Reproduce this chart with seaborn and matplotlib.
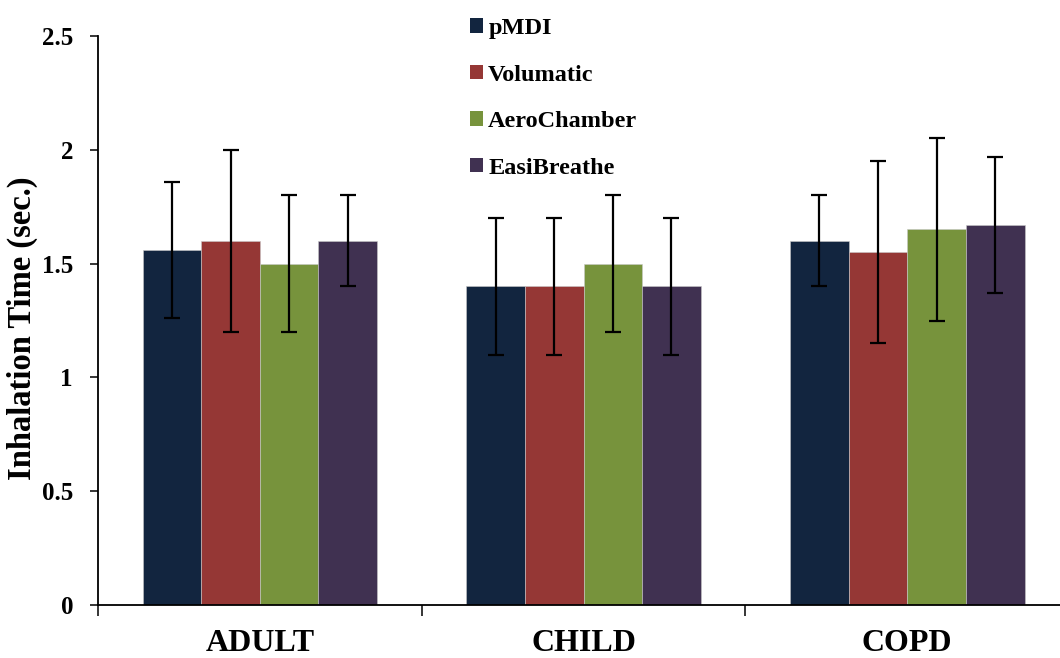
import matplotlib
matplotlib.use("Agg")
import matplotlib.pyplot as plt
from matplotlib.patches import Patch
import seaborn as sns
import pandas as pd

# Mean inhalation time (sec.) per patient group and device, with error ranges
groups = ["ADULT", "CHILD", "COPD"]
devices = ["pMDI", "Volumatic", "AeroChamber", "EasiBreathe"]
means = {
    "pMDI":        [1.56, 1.40, 1.60],
    "Volumatic":   [1.60, 1.40, 1.55],
    "AeroChamber": [1.50, 1.50, 1.65],
    "EasiBreathe": [1.60, 1.40, 1.67],
}
errors = {
    "pMDI":        [0.30, 0.30, 0.20],
    "Volumatic":   [0.40, 0.30, 0.40],
    "AeroChamber": [0.30, 0.30, 0.40],
    "EasiBreathe": [0.20, 0.30, 0.30],
}
colors = ["#12253F", "#953735", "#77933C", "#403151"]
yticks = [0, 0.5, 1, 1.5, 2, 2.5]
ytick_labels = ["0", "0.5", "1", "1.5", "2", "2.5"]

sns.set_theme(style="white")
plt.rcParams["font.family"] = ["Liberation Serif", "DejaVu Serif"]
plt.rcParams["font.weight"] = "bold"
plt.rcParams["text.color"] = "black"
plt.rcParams["axes.labelcolor"] = "black"
plt.rcParams["xtick.color"] = "black"
plt.rcParams["ytick.color"] = "black"

rows = []
for d in devices:
    for g, m in zip(groups, means[d]):
        rows.append({"group": g, "device": d, "time": m})
df = pd.DataFrame(rows)

fig = plt.figure(figsize=(10.6, 6.58), dpi=100)
ax = fig.add_axes([98 / 1060, 53 / 658, 1 - 98 / 1060, 569 / 658])

sns.barplot(data=df, x="group", y="time", hue="device", order=groups,
            hue_order=devices, palette=colors, saturation=1, width=0.725,
            errorbar=None, legend=False, edgecolor="#c8c8c8", linewidth=0.4,
            ax=ax)

# error bars centred on each drawn bar
for cont, d in zip(ax.containers, devices):
    xs = [p.get_x() + p.get_width() / 2 for p in cont.patches]
    ys = [p.get_height() for p in cont.patches]
    ax.errorbar(xs, ys, yerr=errors[d], fmt="none", ecolor="black",
                elinewidth=1.6, capsize=6, capthick=1.6, zorder=5)

ax.set_yticks(yticks)
ax.set_yticklabels(ytick_labels, fontsize=18, fontweight="bold")
ax.set_xticks(range(len(groups)))
ax.set_xticklabels(groups, fontsize=23, fontweight="bold")
ax.set_xticks([-0.5, 0.5, 1.5, 2.5], minor=True)
ax.set_ylim(0, 2.5)
ax.set_xlim(-0.5, 2.5 - 9 / 323.5)
ax.tick_params(axis="x", which="major", length=0, pad=17)
ax.tick_params(axis="x", which="minor", length=8, width=1.1, color="black",
               direction="out", bottom=True)
ax.tick_params(axis="y", length=6, width=1.1, color="black", direction="out",
               left=True, pad=12)
ax.set_xlabel("")
ax.set_ylabel("Inhalation Time (sec.)", fontsize=23.5, fontweight="bold",
              color="black")
ax.yaxis.set_label_coords(-60 / 962, 0.487)

for s in ["top", "right"]:
    ax.spines[s].set_visible(False)
for s in ["left", "bottom"]:
    ax.spines[s].set_color("black")
    ax.spines[s].set_linewidth(1.3)

handles = [Patch(facecolor=c, edgecolor="none", label=d)
           for c, d in zip(colors, devices)]
fig.legend(handles=handles, loc="upper left",
           bbox_to_anchor=(470 / 1060, 1 - 18 / 658), frameon=False,
           prop={"family": "Liberation Serif", "weight": "bold", "size": 17.5},
           handlelength=0.55, handleheight=0.55, handletextpad=0.2,
           labelspacing=1.05, borderpad=0, borderaxespad=0,
           labelcolor="black")

fig.savefig("out.png", dpi=100)
